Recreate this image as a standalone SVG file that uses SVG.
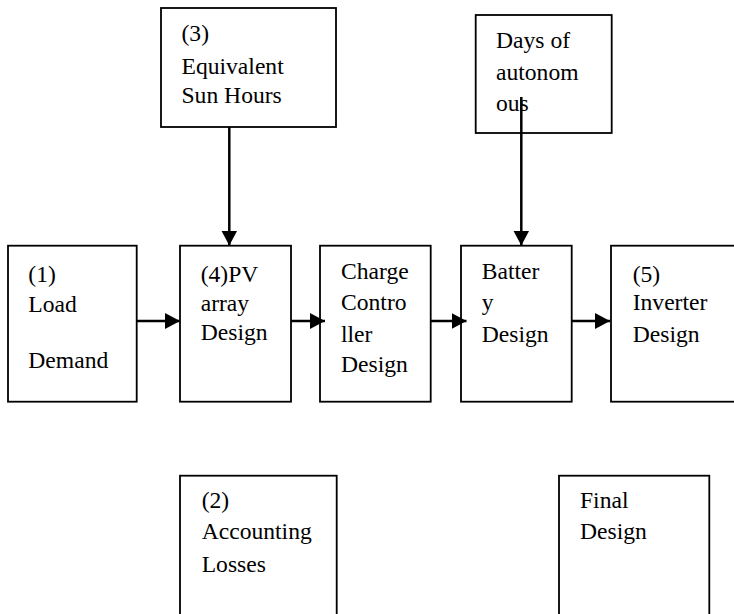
<svg xmlns="http://www.w3.org/2000/svg" width="734" height="614" viewBox="0 0 734 614">
<defs>
<style>
.box{fill:#fff;stroke:#000;stroke-width:1.8}
.t{font-family:"Liberation Serif","Times New Roman",serif;font-size:23.6px;fill:#000}
.c{stroke:#000;stroke-width:2.5;fill:none}
</style>
<marker id="ah" markerUnits="userSpaceOnUse" markerWidth="16" markerHeight="16" refX="15" refY="8" orient="auto">
<path d="M0,0 L15,8 L0,16 Z" fill="#000"/>
</marker>
</defs>
<rect width="734" height="614" fill="#fff"/>
<g id="n3">
<rect class="box" x="161" y="8" width="175" height="119"/>
<text class="t" x="181.5" y="41">(3)</text>
<text class="t" x="181.5" y="73.5">Equivalent</text>
<text class="t" x="181.5" y="102.5">Sun Hours</text>
</g>
<g id="ndays">
<rect class="box" x="475.7" y="15" width="136" height="118"/>
<text class="t" x="496" y="48">Days of</text>
<text class="t" x="496" y="80">autonom</text>
<text class="t" x="496" y="111">ous</text>
</g>
<g id="n1">
<rect class="box" x="8" y="245.7" width="128.7" height="156"/>
<text class="t" x="28.3" y="281.5">(1)</text>
<text class="t" x="28.3" y="311.5">Load</text>
<text class="t" x="28.3" y="368">Demand</text>
</g>
<g id="n4">
<rect class="box" x="180" y="245.7" width="111" height="156"/>
<text class="t" x="200.7" y="281.5">(4)PV</text>
<text class="t" x="200.7" y="311">array</text>
<text class="t" x="200.7" y="340">Design</text>
</g>
<g id="ncc">
<rect class="box" x="320" y="245.7" width="110.7" height="156"/>
<text class="t" x="341" y="278.5">Charge</text>
<text class="t" x="341" y="310">Contro</text>
<text class="t" x="341" y="341.5">ller</text>
<text class="t" x="341" y="372">Design</text>
</g>
<g id="nbat">
<rect class="box" x="461" y="245.7" width="110.7" height="156"/>
<text class="t" x="481.7" y="278.5">Batter</text>
<text class="t" x="481.7" y="310">y</text>
<text class="t" x="481.7" y="341.5">Design</text>
</g>
<g id="n5">
<rect class="box" x="611" y="245.7" width="140" height="156"/>
<text class="t" x="632.7" y="281.5">(5)</text>
<text class="t" x="632.7" y="310">Inverter</text>
<text class="t" x="632.7" y="341.5">Design</text>
</g>
<g id="n2">
<rect class="box" x="180" y="475.7" width="156.7" height="160"/>
<text class="t" x="201.7" y="508">(2)</text>
<text class="t" x="201.7" y="539">Accounting</text>
<text class="t" x="201.7" y="571.5">Losses</text>
</g>
<g id="nfinal">
<rect class="box" x="559" y="475.7" width="150.3" height="160"/>
<text class="t" x="580" y="508">Final</text>
<text class="t" x="580" y="539">Design</text>
</g>
<g id="connectors">
<line class="c" x1="136.7" y1="321" x2="180" y2="321" marker-end="url(#ah)"/>
<line class="c" x1="291" y1="321" x2="325" y2="321" marker-end="url(#ah)"/>
<line class="c" x1="430.7" y1="321" x2="466.5" y2="321" marker-end="url(#ah)"/>
<line class="c" x1="571.7" y1="321" x2="610" y2="321" marker-end="url(#ah)"/>
<line class="c" x1="229.3" y1="127" x2="229.3" y2="245.5" marker-end="url(#ah)"/>
<line class="c" x1="521.3" y1="97" x2="521.3" y2="245.5" marker-end="url(#ah)"/>
</g>
</svg>
